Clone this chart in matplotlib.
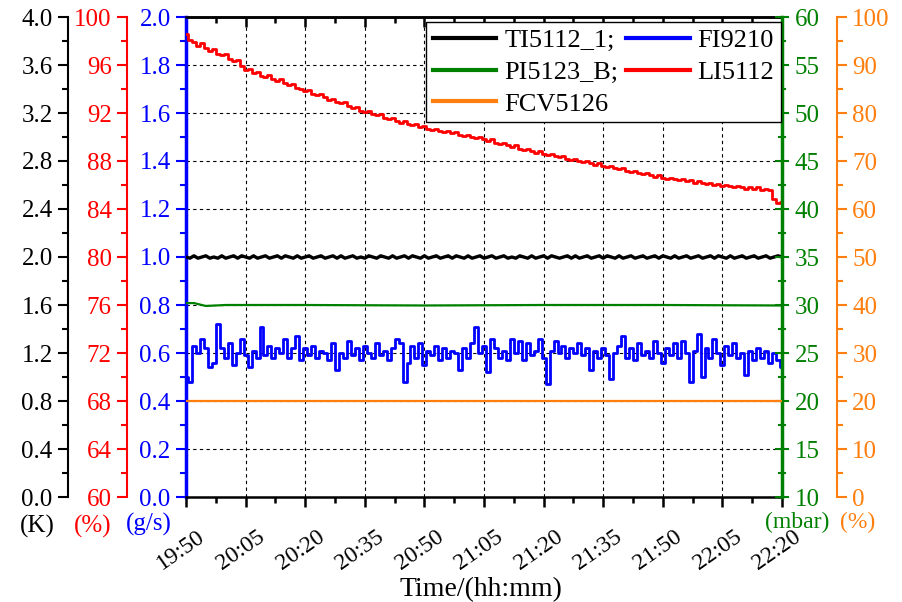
# multi-axis trend plot of cryo plant signals (19:50 - 22:20)

import numpy as np
import matplotlib
matplotlib.use('Agg')
import matplotlib.pyplot as plt
import matplotlib.transforms as mtransforms
from matplotlib.ticker import MultipleLocator
from matplotlib.lines import Line2D

plt.rcParams['font.family'] = ['Liberation Serif', 'DejaVu Serif']

# minutes after 19:50, one sample per minute
minutes = np.arange(0, 151)

tick_minutes = [0, 15, 30, 45, 60, 75, 90, 105, 120, 135, 150]
time_labels = ['19:50', '20:05', '20:20', '20:35', '20:50', '21:05',
               '21:20', '21:35', '21:50', '22:05', '22:20']

# TI5112_1 (K)
ti_vals = [
    2.00, 1.99, 2.01, 1.99, 2.00, 2.01, 1.99, 2.00, 1.99, 2.01,
    1.99, 2.00, 2.01, 1.99, 2.01, 2.00, 1.99, 2.01, 1.99, 2.00,
    2.01, 1.99, 2.00, 2.01, 1.99, 2.01, 2.00, 1.99, 2.01, 1.99,
    2.00, 2.01, 1.99, 2.00, 2.01, 1.99, 2.00, 2.01, 1.99, 2.01,
    1.99, 2.00, 2.01, 1.99, 2.00, 1.99, 2.01, 2.00, 1.99, 2.01,
    2.00, 1.99, 2.01, 1.99, 2.00, 2.01, 1.99, 2.01, 2.00, 1.99,
    2.01, 1.99, 2.00, 2.01, 1.99, 2.00, 2.01, 1.99, 2.01, 2.00,
    1.99, 2.01, 1.99, 2.00, 2.01, 1.99, 2.00, 2.01, 1.99, 2.00,
    2.01, 1.99, 2.00, 1.99, 2.01, 2.00, 1.99, 2.01, 1.99, 2.00,
    2.01, 1.99, 2.01, 2.00, 1.99, 2.00, 2.01, 1.99, 2.01, 1.99,
    2.00, 2.01, 1.99, 2.00, 2.01, 1.99, 2.01, 2.00, 1.99, 2.01,
    1.99, 2.00, 2.01, 1.99, 2.00, 2.01, 1.99, 2.00, 2.01, 1.99,
    2.01, 2.00, 1.99, 2.01, 1.99, 2.00, 2.01, 1.99, 2.00, 2.01,
    1.99, 2.00, 2.01, 1.99, 2.01, 2.00, 1.99, 2.01, 1.99, 2.00,
    2.01, 1.99, 2.00, 2.01, 1.99, 2.00, 2.01, 1.99, 2.00, 2.01, 2.00,
]

# FI9210 (g/s)
fi_vals = [
    0.50, 0.48, 0.63, 0.60, 0.66, 0.62, 0.54, 0.56, 0.72, 0.62,
    0.58, 0.64, 0.55, 0.60, 0.66, 0.59, 0.54, 0.61, 0.58, 0.71,
    0.59, 0.63, 0.58, 0.62, 0.60, 0.66, 0.58, 0.62, 0.67, 0.57,
    0.62, 0.59, 0.63, 0.58, 0.61, 0.60, 0.57, 0.64, 0.53, 0.60,
    0.58, 0.65, 0.59, 0.62, 0.57, 0.63, 0.60, 0.58, 0.64, 0.59,
    0.61, 0.57, 0.62, 0.66, 0.64, 0.48, 0.56, 0.63, 0.58, 0.64,
    0.55, 0.61, 0.59, 0.63, 0.57, 0.62, 0.58, 0.61, 0.60, 0.53,
    0.62, 0.58, 0.64, 0.71, 0.60, 0.63, 0.52, 0.66, 0.62, 0.58,
    0.61, 0.57, 0.66, 0.60, 0.65, 0.57, 0.64, 0.59, 0.61, 0.66,
    0.58, 0.47, 0.61, 0.65, 0.60, 0.63, 0.58, 0.62, 0.60, 0.64,
    0.59, 0.62, 0.53, 0.61, 0.58, 0.62, 0.59, 0.49, 0.60, 0.63,
    0.67, 0.58, 0.62, 0.57, 0.64, 0.59, 0.61, 0.58, 0.65, 0.60,
    0.56, 0.62, 0.59, 0.64, 0.58, 0.65, 0.60, 0.48, 0.61, 0.68,
    0.50, 0.62, 0.58, 0.66, 0.60, 0.55, 0.63, 0.59, 0.64, 0.58,
    0.60, 0.51, 0.61, 0.57, 0.62, 0.58, 0.61, 0.56, 0.60, 0.57, 0.54,
]

# LI5112 (%)
li_vals = [
    98.6, 98.1, 97.9, 97.6, 97.8, 97.4, 97.2, 97.3, 96.9, 96.8,
    96.9, 96.5, 96.3, 96.4, 95.9, 95.6, 95.7, 95.3, 95.4, 95.1,
    95.0, 95.2, 94.8, 94.7, 94.8, 94.5, 94.3, 94.4, 94.1, 94.0,
    93.8, 93.9, 93.6, 93.5, 93.6, 93.3, 93.1, 93.2, 92.9, 92.8,
    92.9, 92.6, 92.4, 92.5, 92.2, 92.1, 92.2, 91.9, 91.8, 91.9,
    91.6, 91.5, 91.6, 91.3, 91.2, 91.3, 91.1, 91.0, 91.1, 90.8,
    90.9, 90.7, 90.6, 90.7, 90.5, 90.4, 90.5, 90.3, 90.4, 90.2,
    90.1, 90.2, 90.0, 89.9, 90.0, 89.8, 89.7, 89.8, 89.5, 89.4,
    89.5, 89.3, 89.2, 89.3, 89.0, 88.9, 89.0, 88.8, 88.7, 88.8,
    88.6, 88.5, 88.6, 88.4, 88.3, 88.4, 88.2, 88.1, 88.2, 88.0,
    87.9, 88.0, 87.8, 87.7, 87.8, 87.6, 87.5, 87.6, 87.4, 87.3,
    87.4, 87.2, 87.1, 87.2, 87.0, 86.9, 87.0, 86.8, 86.7, 86.8,
    86.6, 86.5, 86.6, 86.5, 86.4, 86.5, 86.3, 86.4, 86.2, 86.3,
    86.2, 86.1, 86.2, 86.0, 86.1, 85.9, 86.0, 85.9, 85.8, 85.9,
    85.8, 85.7, 85.8, 85.7, 85.8, 85.6, 85.7, 85.6, 84.8, 84.5, 84.6,
]

# PI5123_B (mbar)
pi_t = [0, 2, 5, 10, 30, 60, 90, 120, 150]
pi_vals = [30.2, 30.2, 29.9, 30.0, 30.0, 29.95, 30.0, 30.0, 29.95]

# FCV5126 (%)
fcv_t = [0, 150]
fcv_vals = [20.0, 20.0]

W, H = 903, 602
fig = plt.figure(figsize=(W / 100, H / 100), dpi=100)
x0, x1, y0, y1 = 186, 782, 17, 497
ax = fig.add_axes([x0 / W, 1 - y1 / H, (x1 - x0) / W, (y1 - y0) / H])
axw = x1 - x0

tick_fs = 18
major_len, minor_len = 7, 4

# host axis: FI9210 (blue, left spine of frame)
ax.set_xlim(0, 150)
ax.set_ylim(0, 2.0)
ax.yaxis.set_major_locator(MultipleLocator(0.2))
ax.yaxis.set_minor_locator(MultipleLocator(0.1))
ax.yaxis.set_major_formatter(plt.FuncFormatter(lambda v, p: f'{v:.1f}'))
ax.tick_params(axis='y', which='both', colors='blue', labelsize=tick_fs, direction='out', width=1.5, pad=4)
ax.tick_params(axis='y', which='major', length=major_len)
ax.tick_params(axis='y', which='minor', length=minor_len)
ax.spines['left'].set_color('blue')
ax.spines['left'].set_linewidth(2.5)
ax.spines['top'].set_linewidth(1.8)
ax.spines['bottom'].set_linewidth(1.8)
ax.spines['right'].set_visible(False)

ax.set_xticks(tick_minutes)
ax.set_xticklabels(time_labels, rotation=35, ha='right', rotation_mode='anchor')
ax.xaxis.set_minor_locator(MultipleLocator(7.5))
ax.tick_params(axis='x', which='both', direction='out', width=1.8, labelsize=17, pad=6)
ax.tick_params(axis='x', which='major', length=major_len)
ax.tick_params(axis='x', which='minor', length=minor_len)
shift = mtransforms.ScaledTranslation(0.11, -0.11, fig.dpi_scale_trans)
for lab in ax.get_xticklabels():
    lab.set_transform(lab.get_transform() + shift)

top = ax.secondary_xaxis('top')
top.set_xticks(tick_minutes)
top.xaxis.set_minor_locator(MultipleLocator(7.5))
top.tick_params(axis='x', which='both', direction='in', labeltop=False, width=1.8)
top.tick_params(axis='x', which='major', length=major_len)
top.tick_params(axis='x', which='minor', length=minor_len)
top.spines['top'].set_linewidth(1.8)

ax.grid(True, which='major', color='black', linestyle=(0, (3, 3)), linewidth=0.8)


def make_twin(side, pos, color, lo, hi, major, minor, fmt, spine_w=1.5, direction='out'):
    tw = ax.twinx()
    for s in tw.spines.values():
        s.set_visible(False)
    sp = tw.spines[side]
    sp.set_visible(True)
    sp.set_position(('axes', pos))
    sp.set_color(color)
    sp.set_linewidth(spine_w)
    if side == 'left':
        tw.yaxis.tick_left()
    else:
        tw.yaxis.tick_right()
    tw.set_ylim(lo, hi)
    tw.yaxis.set_major_locator(MultipleLocator(major))
    tw.yaxis.set_minor_locator(MultipleLocator(minor))
    tw.yaxis.set_major_formatter(plt.FuncFormatter(lambda v, p: fmt.format(v)))
    tw.tick_params(axis='y', which='both', colors=color, labelsize=tick_fs, direction=direction, width=1.5, pad=4)
    tw.tick_params(axis='y', which='major', length=major_len)
    tw.tick_params(axis='y', which='minor', length=minor_len)
    return tw


ax_k = make_twin('left', -118 / axw, 'black', 0, 4.0, 0.4, 0.2, '{:.1f}')
ax_li = make_twin('left', -59 / axw, 'red', 60, 100, 4, 2, '{:.0f}')
ax_pi = make_twin('right', 1.0, 'green', 10, 60, 5, 2.5, '{:.0f}', spine_w=2.5, direction='inout')
ax_fcv = make_twin('right', (837 - x0) / axw, '#ff7f0e', 0, 100, 10, 5, '{:.0f}')
ax_pi.tick_params(axis='y', which='major', length=10)
ax_pi.tick_params(axis='y', which='minor', length=6)

# series
ax_fcv.plot(fcv_t, fcv_vals, color='#ff7f0e', lw=1.6)
ax_pi.plot(pi_t, pi_vals, color='green', lw=1.6)
ax.plot(minutes, fi_vals, color='blue', lw=2.0, drawstyle='steps-mid')
ax_k.plot(minutes, ti_vals, color='black', lw=2.4)
ax_li.plot(minutes, li_vals, color='red', lw=2.0, drawstyle='steps-mid')

handles = [
    Line2D([], [], color='black', lw=3),
    Line2D([], [], color='green', lw=3),
    Line2D([], [], color='#ff7f0e', lw=3),
    Line2D([], [], color='blue', lw=3),
    Line2D([], [], color='red', lw=3),
]
labels = ['TI5112_1;', 'PI5123_B;', 'FCV5126', 'FI9210', 'LI5112']
leg = ax_fcv.legend(handles, labels, ncol=2, loc='upper right', bbox_to_anchor=(0.998, 0.99),
                    bbox_transform=ax.transAxes, fontsize=19, frameon=True, fancybox=False,
                    framealpha=1, edgecolor='black', handlelength=2.4, handletextpad=0.3,
                    columnspacing=0.3, labelspacing=0.32, borderpad=0.25, borderaxespad=0)
leg.get_frame().set_linewidth(1.0)
leg.set_zorder(10)

# unit labels under the axes
fig.text(37 / W, 1 - 526 / H, '(K)', color='black', fontsize=tick_fs, ha='center', va='center')
fig.text(93 / W, 1 - 526 / H, '(%)', color='red', fontsize=tick_fs, ha='center', va='center')
fig.text(149 / W, 1 - 524 / H, '(g/s)', color='blue', fontsize=tick_fs, ha='center', va='center')
fig.text(797 / W, 1 - 522 / H, '(mbar)', color='green', fontsize=17, ha='center', va='center')
fig.text(858 / W, 1 - 522 / H, '(%)', color='#ff7f0e', fontsize=17, ha='center', va='center')

fig.text(481 / W, 1 - 590 / H, 'Time/(hh:mm)', fontsize=20, ha='center', va='center')

fig.savefig('out.png', dpi=100)
